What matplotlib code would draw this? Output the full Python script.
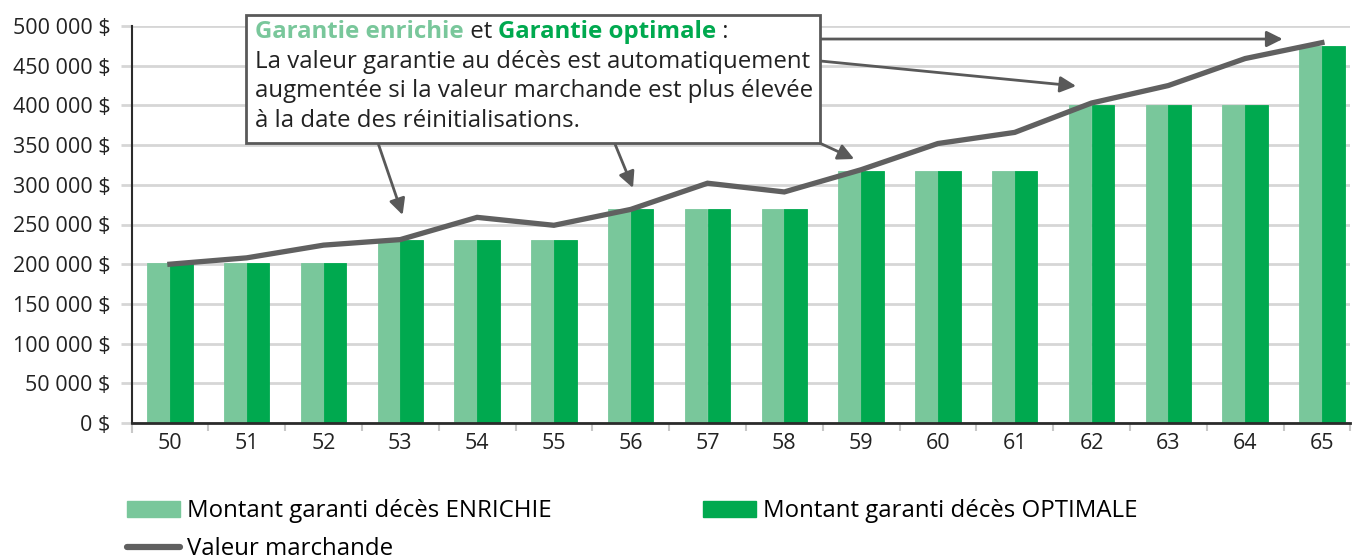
import numpy as np
import matplotlib
matplotlib.use('Agg')
import matplotlib.pyplot as plt
from matplotlib.patches import Rectangle, Patch
from matplotlib.lines import Line2D

plt.rcParams['font.family'] = ['Open Sans', 'DejaVu Sans']

# data
ages = [50, 51, 52, 53, 54, 55, 56, 57, 58, 59, 60, 61, 62, 63, 64, 65]
enrichie = [201000, 201000, 201000, 230000, 230000, 230000, 269000, 269000,
            269000, 318000, 318000, 318000, 400000, 400000, 400000, 475000]
optimale = [201000, 201000, 201000, 230000, 230000, 230000, 269000, 269000,
            269000, 318000, 318000, 318000, 400000, 400000, 400000, 475000]
marchande = [200000, 208000, 224000, 231000, 259000, 249000, 269000, 302000,
             291000, 319000, 352000, 366000, 403000, 425000, 459000, 479000]
yticks = np.arange(0, 500001, 50000)

light_green = '#79C79B'
dark_green = '#00A94F'
line_gray = '#606060'
grid_gray = '#D6D6D6'
axis_col = '#2b2b2b'

W, H = 1354, 560
step = 76.8  # pixels per category
ax_left, ax_right = 131.5, 1350
fig = plt.figure(figsize=(W / 100, H / 100), dpi=100)
ax = fig.add_axes([ax_left / W, (H - 423) / H, (ax_right - ax_left) / W, 397 / H])

x = np.arange(len(ages))
bw = 0.295
ax.bar(x - bw / 2, enrichie, bw, color=light_green, edgecolor=light_green,
       lw=0.6, zorder=2)
ax.bar(x + bw / 2, optimale, bw, color=dark_green, edgecolor=dark_green,
       lw=0.6, zorder=2)
ax.plot(x, marchande, color=line_gray, lw=3.8, zorder=3, solid_joinstyle='miter')

xmax = -0.5 + (ax_right - ax_left) / step
ax.set_xlim(-0.5, xmax)
ax.set_ylim(0, 500000)

ax.set_yticks(yticks)
ax.set_yticklabels([f"{v:,} $".replace(',', ' ') for v in yticks])
ax.yaxis.grid(True, color=grid_gray, lw=2, zorder=0)
ax.set_axisbelow(True)
ax.tick_params(axis='y', length=8, width=2, color=grid_gray, pad=7,
               labelsize=15.5, labelcolor='#222222')

ax.set_xticks(x)
ax.set_xticklabels([str(a) for a in ages])
ax.set_xticks(list(np.arange(-0.5, len(ages) - 1, 1)) + [xmax], minor=True)
ax.tick_params(axis='x', which='major', length=0, pad=7, labelsize=15.5,
               labelcolor='#222222')
ax.tick_params(axis='x', which='minor', length=6, width=1.5, color='#C8C8C8')

for s in ['top', 'right']:
    ax.spines[s].set_visible(False)
ax.spines['left'].set_color(axis_col)
ax.spines['left'].set_linewidth(1.5)
ax.spines['bottom'].set_color(axis_col)
ax.spines['bottom'].set_linewidth(2)

# axis lines stick out past the corner
ax.yaxis.get_major_ticks()[0].tick1line.set_color(axis_col)
first_minor = ax.xaxis.get_minor_ticks()[0].tick1line
first_minor.set_color(axis_col)
first_minor.set_markersize(7)

# callout box
fig.patches.append(Rectangle((246 / W, (H - 143) / H), (820 - 246) / W, 128 / H,
                             transform=fig.transFigure, facecolor='white',
                             edgecolor='#595959', lw=2, zorder=5))

fs = 17.3
ty = (H - 32) / H
t1 = fig.text(255 / W, ty, "Garantie enrichie", color=light_green,
              fontsize=fs, fontweight='bold', va='center', zorder=6)
t2 = fig.text(0, ty, " et ", color='#222222', fontsize=fs, va='center', zorder=6)
t3 = fig.text(0, ty, "Garantie optimale", color=dark_green, fontsize=fs,
              fontweight='bold', va='center', zorder=6)
t4 = fig.text(0, ty, " :", color='#222222', fontsize=fs, va='center', zorder=6)
fig.canvas.draw()
r = fig.canvas.get_renderer()
prev = t1
for t in [t2, t3, t4]:
    bb = prev.get_window_extent(r)
    t.set_x(bb.x1 / W)
    prev = t

body = ["La valeur garantie au décès est automatiquement",
        "augmentée si la valeur marchande est plus élevée",
        "à la date des réinitialisations."]
for i, s in enumerate(body):
    fig.text(255 / W, (H - 62 - 29.3 * i) / H, s, fontsize=fs, color='#222222',
             va='center', zorder=6)

# arrows (start on box edge, end near the line)
arrows = [((2.71, 352600), (3.03, 262000)),
          ((5.79, 352600), (6.03, 296000)),
          ((8.46, 352600), (8.91, 332500)),
          ((8.46, 456000), (11.80, 424400)),
          ((8.46, 483600), (14.49, 483600))]
for start, end in arrows:
    ax.annotate('', xy=end, xytext=start, annotation_clip=False,
                arrowprops=dict(arrowstyle='-|>', color='#595959', lw=2,
                                mutation_scale=24, shrinkA=0, shrinkB=0),
                zorder=6)

# legend, filled column by column -> order so rows read ENRICHIE / OPTIMALE, then line
handles = [Patch(color=light_green, label='Montant garanti décès ENRICHIE'),
           Line2D([], [], color=line_gray, lw=4.5, solid_capstyle='round',
                  label='Valeur marchande'),
           Patch(color=dark_green, label='Montant garanti décès OPTIMALE')]
fig.legend(handles=handles, loc='upper left', bbox_to_anchor=(127 / W, (H - 499) / H),
           ncol=2, frameon=False, fontsize=17.3, handlelength=2.2,
           handleheight=0.65, handletextpad=0.3, columnspacing=6.3,
           labelspacing=0.58, borderaxespad=0, borderpad=0)

fig.savefig('out.png', dpi=100)
